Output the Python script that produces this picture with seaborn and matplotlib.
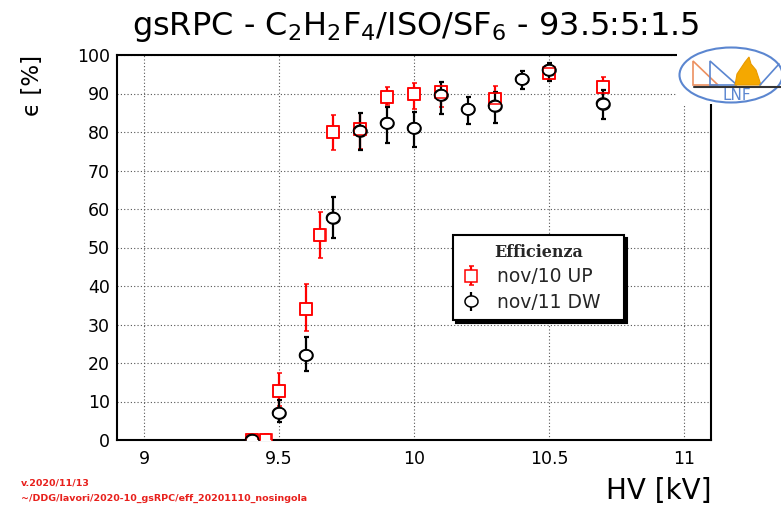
import numpy as np
import matplotlib
matplotlib.use("Agg")
import matplotlib.pyplot as plt
import seaborn as sns
import pandas as pd
from matplotlib.path import Path
from matplotlib.patches import Ellipse, Polygon, Rectangle
from matplotlib.lines import Line2D
from matplotlib.ticker import MultipleLocator

# ---------------- data ----------------
hv_up = [9.40, 9.45, 9.50, 9.60, 9.65, 9.70, 9.80, 9.90, 10.00, 10.10, 10.30, 10.50, 10.70]
eff_up = [0.0, 0.0, 12.8, 34.0, 53.2, 80.0, 80.8, 89.2, 89.8, 90.3, 88.7, 95.2, 91.6]
err_up_lo = [0.0, 0.0, 4.0, 5.7, 5.9, 4.7, 5.2, 2.2, 3.8, 3.7, 3.0, 1.7, 3.3]
err_up_hi = [0.3, 1.5, 4.6, 6.5, 6.0, 4.4, 4.1, 2.6, 3.0, 1.5, 3.2, 1.4, 2.8]

hv_dw = [9.40, 9.50, 9.60, 9.70, 9.80, 9.90, 10.00, 10.10, 10.20, 10.30, 10.40, 10.50, 10.70]
eff_dw = [0.0, 7.0, 22.0, 57.7, 80.3, 82.3, 81.0, 89.6, 85.9, 86.8, 93.7, 96.1, 87.4]
err_dw_lo = [0.0, 2.3, 4.0, 5.2, 5.0, 5.2, 4.8, 4.9, 3.9, 4.4, 2.6, 2.8, 3.9]
err_dw_hi = [0.5, 3.4, 4.8, 5.4, 4.6, 4.1, 4.1, 3.5, 3.3, 3.5, 2.2, 1.7, 3.5]

labels = ["nov/10 UP", "nov/11 DW"]
legend_title = "Efficienza"
title = r"gsRPC - C$_2$H$_2$F$_4$/ISO/SF$_6$ - 93.5:5:1.5"
xlabel = "HV [kV]"
ylabel = "\u03f5 [%]"
note1 = "v.2020/11/13"
note2 = "~/DDG/lavori/2020-10_gsRPC/eff_20201110_nosingola"

df_up = pd.DataFrame({"hv": hv_up, "eff": eff_up})
df_dw = pd.DataFrame({"hv": hv_dw, "eff": eff_dw})

# ---------------- style ----------------
sns.set_theme(style="white")
plt.rcParams["font.family"] = ["DejaVu Sans"]
plt.rcParams["mathtext.fontset"] = "dejavusans"

fig = plt.figure(figsize=(7.81, 5.05), dpi=100)
fig.patch.set_facecolor("white")
W, H = 781.0, 505.0
ax = fig.add_axes([117 / W, 65 / H, 594 / W, 385 / H])
ax.set_facecolor("white")

ax.set_xlim(8.9, 11.1)
ax.set_ylim(0, 100)

# ellipse-like circle marker (ROOT circles look slightly wide)
t = np.linspace(0, 2 * np.pi, 41)
circ = Path(np.column_stack([np.cos(t), 0.85 * np.sin(t)]))

red = "#ff0000"
blk = "#000000"
ms_sq = 8.6
ms_ci = 9.4

eb_up = ax.errorbar(hv_up, eff_up, yerr=[err_up_lo, err_up_hi], fmt="s", color=red,
                    mfc="white", mec=red, ms=ms_sq, mew=1.1, elinewidth=1.6,
                    capsize=1.8, capthick=1.6, zorder=3)
eb_dw = ax.errorbar(hv_dw, eff_dw, yerr=[err_dw_lo, err_dw_hi], fmt="none", ecolor=blk,
                    elinewidth=1.6, capsize=1.8, capthick=1.6, zorder=4)
ax.plot(hv_dw, eff_dw, linestyle="none", marker=circ, ms=ms_ci, mfc="white", mec=blk,
        mew=1.1, zorder=4.5)

# outlines on top so overlapping markers stay visible
sns.scatterplot(data=df_up, x="hv", y="eff", marker="s", s=ms_sq ** 2,
                facecolors="none", edgecolors=red, linewidths=1.1, ax=ax,
                legend=False, zorder=5)
sns.scatterplot(data=df_dw, x="hv", y="eff", marker=circ, s=ms_ci ** 2,
                facecolors="none", edgecolors=blk, linewidths=1.1, ax=ax,
                legend=False, zorder=5)

# ---------------- axes cosmetics ----------------
ax.xaxis.set_major_locator(MultipleLocator(0.5))
ax.xaxis.set_minor_locator(MultipleLocator(0.1))
ax.yaxis.set_major_locator(MultipleLocator(10))
ax.yaxis.set_minor_locator(MultipleLocator(2))
ax.set_xticks([9, 9.5, 10, 10.5, 11])
ax.set_xticklabels(["9", "9.5", "10", "10.5", "11"])
ax.tick_params(axis="both", which="both", direction="in", top=False, right=False,
               colors="black", width=1.4)
ax.tick_params(axis="x", which="major", length=8, pad=7, labelsize=12.5)
ax.tick_params(axis="x", which="minor", length=4)
ax.tick_params(axis="y", which="major", length=12.5, pad=5, labelsize=12.5)
ax.tick_params(axis="y", which="minor", length=5.5)
ax.set_xlabel("")
ax.set_ylabel("")
for s in ax.spines.values():
    s.set_color("black")
    s.set_linewidth(1.5)
ax.grid(True, which="major", linestyle=(0, (1, 2)), color="#555555", linewidth=0.8)
ax.set_axisbelow(True)

# legend
h_dw = ax.errorbar([], [], yerr=[[], []], fmt="none", ecolor=blk, elinewidth=1.6,
                   capsize=1.8, capthick=1.6)
leg = ax.legend([eb_up, (h_dw, Line2D([], [], linestyle="none", marker=circ, ms=ms_ci,
                                      mfc="white", mec=blk, mew=1.1))],
                labels, title=legend_title,
                loc="upper left", bbox_to_anchor=(0.566, 0.319, 0.288, 0.213),
                mode="expand", borderaxespad=0.0, fontsize=13.5, frameon=True,
                fancybox=False, edgecolor="black", framealpha=1, borderpad=0.45,
                labelspacing=0.35, handlelength=1.0, handletextpad=0.9,
                shadow={"ox": 2, "oy": -2, "color": "black", "alpha": 1},
                title_fontproperties={"family": "DejaVu Serif", "weight": "bold",
                                      "size": 11.5})
leg.get_frame().set_linewidth(1.5)
leg.set_zorder(10)

# ---------------- texts ----------------
fig.text(416 / W, 1 - 35 / H, title, ha="center", va="baseline", fontsize=23,
         color="black")
fig.text(712 / W, 1 - 499 / H, xlabel, ha="right", va="baseline", fontsize=20,
         color="black")
fig.text(33 / W, 1 - 55 / H, ylabel, rotation=90, ha="center", va="top", fontsize=16.5,
         color="black")
fig.text(21 / W, 1 - 485 / H, note1, ha="left", va="baseline", fontsize=6.8,
         fontweight="bold", color="#e8201c")
fig.text(21 / W, 1 - 501 / H, note2, ha="left", va="baseline", fontsize=6.8,
         fontweight="bold", color="#e8201c")

# ---------------- LNF logo (decoration) ----------------
def fx(px):
    return px / W

def fy(py):
    return 1 - py / H

logo_blue = "#5b86d0"
fig.add_artist(Rectangle((fx(677), fy(104)), fx(781) - fx(677), fy(46) - fy(104),
                         transform=fig.transFigure, facecolor="white",
                         edgecolor="none", zorder=20))
fig.add_artist(Ellipse((fx(731), fy(75)), 103 / W, 55 / H, transform=fig.transFigure,
                       facecolor="white", edgecolor=logo_blue, lw=1.5, zorder=21))
fig.add_artist(Polygon([(fx(693), fy(61)), (fx(693), fy(85)), (fx(718), fy(85))],
                       closed=True, transform=fig.transFigure, facecolor="none",
                       edgecolor="#ec9060", lw=1.2, zorder=22))
fig.add_artist(Polygon([(fx(710), fy(61)), (fx(710), fy(85)), (fx(737), fy(85))],
                       closed=True, transform=fig.transFigure, facecolor="none",
                       edgecolor=logo_blue, lw=1.2, zorder=22))
fig.add_artist(Polygon([(fx(735), fy(85)), (fx(737), fy(74)), (fx(741), fy(68)),
                        (fx(745), fy(62)), (fx(749), fy(57)), (fx(751), fy(64)),
                        (fx(756), fy(70)), (fx(761), fy(85))],
                       closed=True, transform=fig.transFigure, facecolor="#f5a800",
                       edgecolor="#e89a00", lw=0.8, zorder=22))
fig.add_artist(Line2D([fx(760), fx(779)], [fy(85), fy(64)], transform=fig.transFigure,
                      color=logo_blue, lw=1.2, zorder=22))
fig.add_artist(Line2D([fx(694), fx(781)], [fy(87.5), fy(87.5)], transform=fig.transFigure,
                      color="#333333", lw=1.5, zorder=22))
fig.text(fx(737), fy(95), "LNF", ha="center", va="center", fontsize=11,
         color=logo_blue, zorder=23)

fig.savefig("out.png", dpi=100)
